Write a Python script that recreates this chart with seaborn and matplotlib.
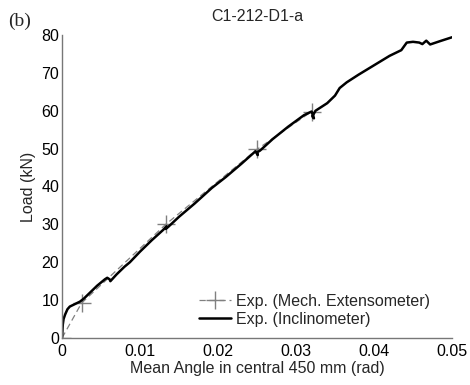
import numpy as np
import pandas as pd
import matplotlib
matplotlib.use("Agg")
import matplotlib.pyplot as plt
import seaborn as sns

# Inclinometer curve
incl_angle = [0.0, 0.0001, 0.0002, 0.0004, 0.0007, 0.0010, 0.0016, 0.0023, 0.0028, 0.0035,
              0.0045, 0.0055, 0.0058, 0.0061, 0.0062, 0.0070, 0.0080, 0.0087, 0.0100,
              0.0115, 0.0130, 0.0134, 0.0133, 0.0136, 0.0150, 0.0170, 0.0192, 0.0210,
              0.0230, 0.0248, 0.0251, 0.0250, 0.0254, 0.0270, 0.0290, 0.0310, 0.0320,
              0.0323, 0.0321, 0.0325, 0.0340, 0.0350, 0.0356, 0.0365, 0.0380, 0.0400,
              0.0420, 0.0435, 0.0442, 0.0450, 0.0458, 0.0462, 0.0467, 0.0472, 0.0485, 0.0500]
incl_load = [0.0, 3.5, 5.0, 6.2, 7.6, 8.3, 8.9, 9.6, 10.4, 11.8,
             13.8, 15.5, 15.9, 15.5, 15.0, 16.8, 18.8, 20.0, 22.8,
             25.8, 28.6, 29.5, 28.8, 29.3, 32.0, 35.5, 39.6, 42.5,
             46.0, 49.3, 48.3, 49.0, 49.5, 52.5, 55.8, 58.8, 59.8,
             58.0, 58.5, 60.0, 62.0, 64.0, 66.0, 67.5, 69.5, 72.0,
             74.5, 76.0, 78.0, 78.2, 78.0, 77.6, 78.5, 77.5, 78.4, 79.4]

# Mechanical extensometer points
ext_angle = [0.0, 0.0025, 0.0133, 0.0250, 0.0320]
ext_load = [0.0, 9.2, 30.0, 49.8, 59.8]

incl = pd.DataFrame({"angle": incl_angle, "load": incl_load})
ext = pd.DataFrame({"angle": ext_angle, "load": ext_load})

sns.set_style("white")
plt.rcParams["font.family"] = ["Liberation Sans", "DejaVu Sans"]
FS = 11.5
plt.rcParams["font.size"] = FS

fig = plt.figure(figsize=(4.7, 3.85), dpi=100)
ax = fig.add_axes([62/470, 1 - 338/385, (452-62)/470, (338-35)/385])

sns.lineplot(data=ext, x="angle", y="load", ax=ax, sort=False, color="#808080",
             linestyle=(0, (5, 3)), linewidth=0.9, marker="+", markersize=13,
             markeredgewidth=1.0, markeredgecolor="#808080", markerfacecolor="#808080",
             label="Exp. (Mech. Extensometer)")
sns.lineplot(data=incl, x="angle", y="load", ax=ax, sort=False, color="black",
             linewidth=1.8, label="Exp. (Inclinometer)")

ax.set_xlim(0, 0.05)
ax.set_ylim(0, 80)
ax.set_xticks([0, 0.01, 0.02, 0.03, 0.04, 0.05])
ax.set_xticklabels(["0", "0.01", "0.02", "0.03", "0.04", "0.05"])
ax.set_yticks(range(0, 81, 10))
ax.tick_params(direction="in", length=3, width=0.8, colors="#555555", labelcolor="black",
               labelsize=FS)
ax.tick_params(axis="x", pad=4)
ax.tick_params(axis="y", pad=2)
for s in ["top", "right"]:
    ax.spines[s].set_visible(False)
for s in ["left", "bottom"]:
    ax.spines[s].set_color("#777777")
    ax.spines[s].set_linewidth(1.0)

ax.set_xlabel("Mean Angle in central 450 mm (rad)", fontsize=FS, labelpad=2)
ax.set_ylabel("Load (kN)", fontsize=FS, labelpad=4)
ax.set_title("C1-212-D1-a", fontsize=FS, pad=10)
fig.text(8/470, 1 - 21/385, "(b)", fontsize=14, family=["Liberation Serif"], va="center")

leg = ax.legend(loc="lower left", bbox_to_anchor=(0.335, 0.015), frameon=False,
                fontsize=FS, handlelength=2.0, handletextpad=0.3, labelspacing=0.2,
                borderaxespad=0)

fig.savefig("out.png", dpi=100)
